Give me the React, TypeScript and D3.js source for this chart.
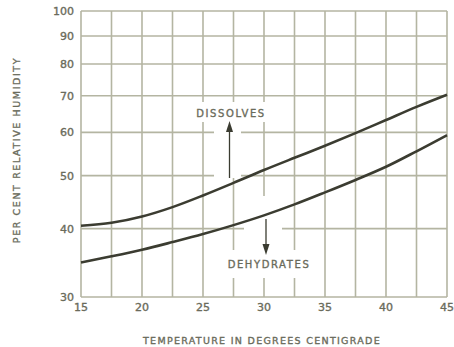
import React from "react";
import * as d3 from "d3";

const width = 454;
const height = 347;
const margin = { top: 11, right: 7, bottom: 50, left: 81 };

const temps = [15, 17.5, 20, 22.5, 25, 27.5, 30, 32.5, 35, 37.5, 40, 42.5, 45];
const dissolves = [40.5, 41, 42.1, 43.8, 46.0, 48.5, 51.2, 53.9, 56.7, 59.8, 63.2, 66.8, 70.3];
const dehydrates = [34.7, 35.6, 36.6, 37.8, 39.1, 40.6, 42.3, 44.3, 46.6, 49.1, 51.9, 55.4, 59.3];

const xTicks = [15, 20, 25, 30, 35, 40, 45];
const xGrid = [15, 17.5, 20, 22.5, 25, 27.5, 30, 32.5, 35, 37.5, 40, 42.5, 45];
const yTicks = [30, 40, 50, 60, 70, 80, 90, 100];

const gridColor = "#b4b5a2";
const textColor = "#6a6b5b";
const lineColor = "#3b3c31";
const font = "'DejaVu Sans', sans-serif";

export default function App() {
  const x = d3.scaleLinear().domain([15, 45]).range([margin.left, width - margin.right]);
  const y = d3.scaleLog().domain([30, 100]).range([height - margin.bottom, margin.top]);

  const line = d3
    .line<number>()
    .x((_, i) => x(temps[i]))
    .y((d) => y(d))
    .curve(d3.curveMonotoneX);

  return (
    <svg
      width={width}
      height={height}
      style={{ position: "absolute", left: 0, top: 0, background: "#fff" }}
    >
      {/* grid */}
      {xGrid.map((t) => (
        <line key={"vx" + t} x1={x(t)} x2={x(t)} y1={y(100)} y2={y(30)} stroke={gridColor} strokeWidth={1.6} />
      ))}
      {yTicks.map((t) => (
        <line key={"hy" + t} x1={x(15)} x2={x(45)} y1={y(t)} y2={y(t)} stroke={gridColor} strokeWidth={1.6} />
      ))}

      {/* cleared areas behind labels */}
      <rect x={196} y={102} width={70} height={20} fill="#fff" />
      <rect x={214} y={122} width={27} height={56} fill="#fff" />
      <rect x={244} y={196} width={38} height={54} fill="#fff" />
      <rect x={228} y={250} width={82} height={28} fill="#fff" />

      {/* curves */}
      <path d={line(dissolves) || ""} fill="none" stroke={lineColor} strokeWidth={2.6} />
      <path d={line(dehydrates) || ""} fill="none" stroke={lineColor} strokeWidth={2.6} />

      {/* arrows */}
      <line x1={229.5} x2={229.5} y1={178} y2={130} stroke={lineColor} strokeWidth={1.3} />
      <path d="M226,132 L229.5,121 L233,132 Z" fill={lineColor} />
      <line x1={266} x2={266} y1={219} y2={246} stroke={lineColor} strokeWidth={1.3} />
      <path d="M262.5,244 L266,255 L269.5,244 Z" fill={lineColor} />

      <g fontFamily={font} fill={textColor} stroke={textColor} strokeWidth={0.35} fontSize={10}>
        <text x={231} y={117} textAnchor="middle" letterSpacing={1.6}>DISSOLVES</text>
        <text x={269} y={268} textAnchor="middle" letterSpacing={1.6}>DEHYDRATES</text>

        {yTicks.map((t) => (
          <text key={"yl" + t} x={74} y={y(t) + 4} textAnchor="end" fontSize={11}>
            {t}
          </text>
        ))}
        {xTicks.map((t) => (
          <text key={"xl" + t} x={x(t)} y={311} textAnchor="middle" fontSize={11}>
            {t}
          </text>
        ))}

        <text x={262} y={344} textAnchor="middle" letterSpacing={1.3} fontSize={9.5}>
          TEMPERATURE IN DEGREES CENTIGRADE
        </text>
        <text
          transform="translate(20,150) rotate(-90)"
          textAnchor="middle"
          letterSpacing={1.6}
          fontSize={9.5}
        >
          PER CENT RELATIVE HUMIDITY
        </text>
      </g>
    </svg>
  );
}
